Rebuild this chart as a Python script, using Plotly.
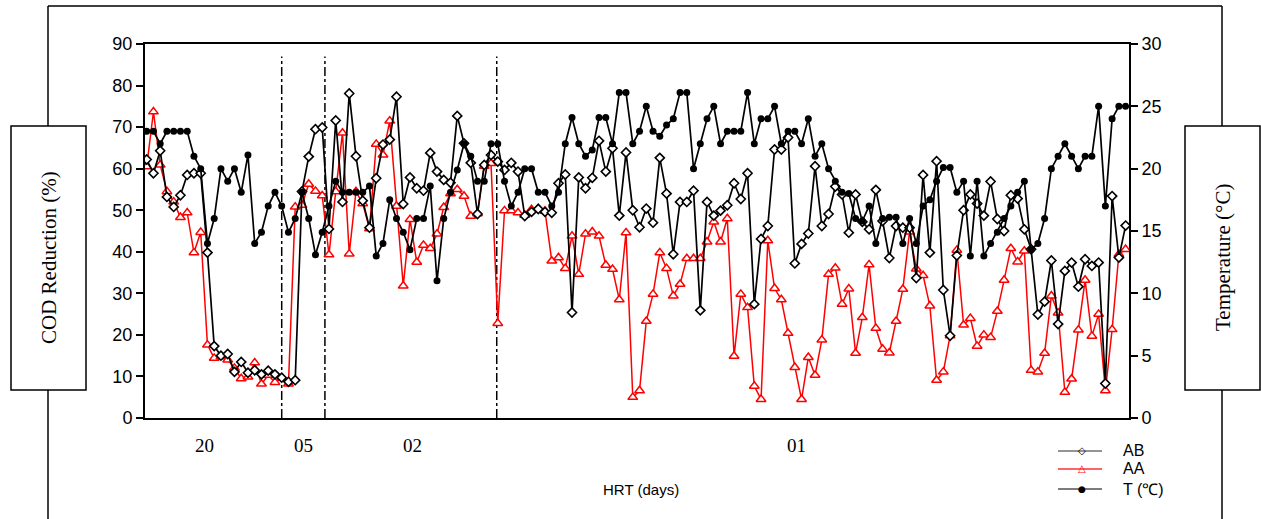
import plotly.graph_objects as go

# ---------------- data ----------------
ab = [62.2, 58.9, 64.3, 53.2, 50.8, 53.6, 58.5, 58.9, 58.9, 39.8,
      17.3, 15.0, 15.4, 11.1, 13.5, 10.9, 11.5, 10.5, 11.4, 10.5,
      9.7, 8.7, 9.1, 54.5, 62.9, 69.5, 69.9, 45.5, 71.6, 52.0,
      78.1, 63.0, 52.3, 45.8, 57.7, 65.8, 67.0, 77.3, 51.5, 57.9,
      55.3, 54.7, 63.8, 59.3, 57.3, 56.6, 72.7, 66.1, 61.4, 49.1,
      60.9, 63.3, 61.7, 59.7, 61.4, 59.3, 48.6, 49.6, 50.3, 49.6,
      49.4, 56.5, 58.6, 25.4, 57.9, 55.3, 57.8, 66.7, 59.3, 64.9,
      48.7, 63.9, 50.0, 45.9, 50.4, 47.0, 62.6, 54.0, 39.4, 52.0,
      52.0, 54.7, 25.9, 52.0, 48.7, 49.9, 51.2, 56.5, 52.7, 58.9,
      27.4, 43.1, 46.2, 64.6, 64.6, 67.5, 37.2, 41.9, 44.4, 60.6,
      46.2, 49.1, 55.7, 53.8, 44.6, 53.8, 47.2, 45.4, 54.9, 47.4,
      38.5, 46.2, 45.8, 45.8, 33.7, 58.5, 39.8, 61.8, 30.8, 19.8,
      39.1, 50.0, 53.8, 51.6, 48.7, 56.9, 47.9, 45.0, 53.6, 52.8,
      45.4, 40.6, 24.9, 28.0, 37.9, 22.6, 35.4, 37.4, 31.6, 38.2,
      36.6, 37.4, 8.3, 53.4, 38.6, 46.3]

aa = [60.5, 73.7, 60.9, 54.5, 52.0, 48.3, 49.4, 39.8, 44.7, 17.6,
      14.4, 14.8, 14.0, 12.0, 9.5, 9.9, 13.3, 8.2, 10.3, 8.6,
      9.6, 8.2, 50.8, 51.2, 56.3, 54.6, 53.5, 39.3, 54.5, 68.6,
      39.5, 54.5, 51.6, 45.6, 65.9, 63.3, 71.5, 51.0, 31.8, 47.8,
      37.5, 41.6, 40.8, 44.3, 50.7, 54.0, 55.0, 53.4, 48.6, 49.2,
      60.6, 61.3, 22.8, 49.9, 49.9, 49.4, 48.8, 50.2, 50.4, 49.8,
      37.8, 38.6, 36.0, 43.8, 34.6, 44.3, 44.8, 43.8, 36.8, 35.8,
      28.5, 44.6, 5.0, 6.6, 23.3, 29.8, 39.8, 36.0, 29.4, 32.2,
      38.4, 38.4, 38.4, 42.4, 47.2, 42.4, 48.0, 14.9, 29.8, 26.6,
      7.7, 4.5, 42.7, 31.2, 28.5, 20.4, 12.2, 4.5, 14.6, 10.3,
      18.8, 34.6, 36.1, 27.4, 31.1, 15.6, 24.2, 36.9, 21.6, 16.6,
      15.7, 23.3, 31.0, 44.8, 35.9, 34.3, 27.0, 9.1, 11.1, 19.8,
      40.4, 22.4, 24.0, 17.3, 20.0, 19.4, 25.7, 33.2, 40.8, 37.6,
      40.2, 11.5, 11.1, 15.6, 29.4, 25.3, 6.2, 9.4, 21.2, 33.2,
      19.7, 25.0, 6.6, 21.3, 39.4, 40.6]

temp = [23.0, 23.0, 22.0, 23.0, 23.0, 23.0, 23.0, 21.0, 20.0, 14.0,
        16.0, 20.0, 19.0, 20.0, 18.1, 21.1, 14.0, 14.9, 17.0, 18.1,
        17.0, 14.9, 16.0, 18.1, 16.0, 13.1, 14.9, 17.0, 19.0, 18.1,
        18.1, 18.1, 18.1, 18.6, 13.0, 14.0, 17.5, 16.0, 14.9, 13.5,
        16.0, 16.0, 18.6, 11.0, 16.0, 18.1, 19.9, 22.0, 21.0, 19.0,
        19.0, 22.0, 22.0, 19.0, 17.0, 18.1, 20.0, 20.0, 18.1, 18.1,
        17.0, 18.1, 22.0, 24.1, 22.0, 21.0, 21.5, 24.1, 24.1, 22.0,
        26.1, 26.1, 22.0, 23.0, 25.0, 23.0, 22.6, 23.5, 24.0, 26.1,
        26.1, 20.0, 22.0, 24.0, 25.0, 22.0, 23.0, 23.0, 23.0, 26.1,
        22.0, 24.0, 24.0, 25.0, 22.0, 23.0, 23.0, 22.0, 24.0, 21.0,
        22.0, 20.0, 19.0, 18.1, 18.0, 16.0, 15.8, 17.0, 14.0, 16.0,
        16.1, 16.1, 14.0, 16.0, 14.0, 17.0, 17.5, 19.0, 20.1, 20.1,
        18.1, 19.0, 13.0, 19.0, 13.0, 14.0, 14.9, 16.0, 17.0, 18.1,
        19.0, 13.5, 14.0, 16.0, 20.0, 21.0, 22.0, 21.0, 20.0, 21.0,
        21.0, 25.0, 17.0, 24.0, 25.0, 25.0]

days = list(range(len(ab)))

phase_boundaries = [20.0, 26.4, 51.85]
hrt_labels = ["20", "05", "02", "01"]
hrt_label_pos = [8.6, 23.3, 39.3, 96.3]

cod_ticks = list(range(0, 91, 10))
temp_ticks = list(range(0, 31, 5))

legend_names = ["AB", "AA", "T (\u2103)"]

# ---------------- figure ----------------
SERIF = "Liberation Serif, Times New Roman, serif"
SANS = "Liberation Sans, Arial, sans-serif"

fig = go.Figure()

fig.add_trace(go.Scatter(
    x=days, y=aa, mode="lines+markers", name="AA", showlegend=False,
    line=dict(color="#ff0000", width=1.5),
    marker=dict(symbol="triangle-up", size=8.5, color="white",
                line=dict(color="#ff0000", width=1.5)),
))
fig.add_trace(go.Scatter(
    x=days, y=ab, mode="lines+markers", name="AB", showlegend=False,
    line=dict(color="black", width=1.7),
    marker=dict(symbol="diamond", size=7, color="white",
                line=dict(color="black", width=1.6)),
))
fig.add_trace(go.Scatter(
    x=days, y=temp, mode="lines+markers", name="T", showlegend=False,
    yaxis="y2",
    line=dict(color="black", width=1.7),
    marker=dict(symbol="circle", size=7, color="black"),
))

W, H = 1261, 519
L, R, T, B = 145, 1129, 44, 418


def xp(px):
    return (px - L) / (R - L)


def yp(py):
    return (B - py) / (B - T)


shapes = []
# outer frame (open at the bottom)
shapes.append(dict(type="line", xref="paper", yref="paper",
                   x0=xp(48), x1=xp(48), y0=yp(6), y1=yp(530),
                   line=dict(color="black", width=1.5)))
shapes.append(dict(type="line", xref="paper", yref="paper",
                   x0=xp(1222), x1=xp(1222), y0=yp(6), y1=yp(530),
                   line=dict(color="black", width=1.5)))
shapes.append(dict(type="line", xref="paper", yref="paper",
                   x0=xp(48), x1=xp(1222), y0=yp(6), y1=yp(6),
                   line=dict(color="black", width=1.5)))
# title boxes
shapes.append(dict(type="rect", xref="paper", yref="paper",
                   x0=xp(11), x1=xp(86), y0=yp(390), y1=yp(126),
                   fillcolor="white", line=dict(color="black", width=1.5)))
shapes.append(dict(type="rect", xref="paper", yref="paper",
                   x0=xp(1185), x1=xp(1260), y0=yp(390), y1=yp(126),
                   fillcolor="white", line=dict(color="black", width=1.5)))
# phase boundaries
for xb in phase_boundaries:
    shapes.append(dict(type="line", xref="x", yref="y", x0=xb, x1=xb,
                       y0=0, y1=87, layer="below",
                       line=dict(color="black", width=1.5, dash="dashdot")))

# legend lines
leg_y = [451, 469, 489]
leg_colors = ["#707070", "#ff3030", "#505050"]
for yy, c in zip(leg_y, leg_colors):
    shapes.append(dict(type="line", xref="paper", yref="paper",
                       x0=xp(1058), x1=xp(1102), y0=yp(yy), y1=yp(yy),
                       line=dict(color=c, width=1.5)))

annotations = []
annotations.append(dict(text="COD Reduction (%)", textangle=-90,
                        xref="paper", yref="paper", x=xp(49), y=yp(258),
                        xanchor="center", yanchor="middle", showarrow=False,
                        font=dict(family=SERIF, size=21, color="black")))
annotations.append(dict(text="Temperature (\u00b0C)", textangle=-90,
                        xref="paper", yref="paper", x=xp(1223), y=yp(258),
                        xanchor="center", yanchor="middle", showarrow=False,
                        font=dict(family=SERIF, size=21, color="black")))
for lab, pos in zip(hrt_labels, hrt_label_pos):
    annotations.append(dict(text=lab, xref="x", yref="paper", x=pos, y=yp(445),
                            xanchor="center", yanchor="middle", showarrow=False,
                            font=dict(family=SERIF, size=19, color="black")))
annotations.append(dict(text="HRT (days)", xref="paper", yref="paper",
                        x=xp(641), y=yp(490), xanchor="center", yanchor="middle",
                        showarrow=False, font=dict(family=SANS, size=15, color="black")))
# legend glyphs and texts
glyphs = ["\u25c7", "\u25b3", "\u25cf"]
glyph_colors = ["black", "#ff0000", "black"]
glyph_sizes = [10, 10, 9]
for yy, g, gc, gs, name in zip(leg_y, glyphs, glyph_colors, glyph_sizes, legend_names):
    annotations.append(dict(text=g, xref="paper", yref="paper", x=xp(1082), y=yp(yy),
                            xanchor="center", yanchor="middle", showarrow=False,
                            font=dict(family="DejaVu Sans", size=gs, color=gc)))
    annotations.append(dict(text=name, xref="paper", yref="paper", x=xp(1121), y=yp(yy),
                            xanchor="left", yanchor="middle", showarrow=False,
                            font=dict(family=SANS, size=16, color="black")))

fig.update_layout(
    width=W, height=H,
    margin=dict(l=L, r=W - R, t=T, b=H - B, pad=0),
    paper_bgcolor="white", plot_bgcolor="white",
    showlegend=False,
    xaxis=dict(range=[-0.25, 145.5], showgrid=False, zeroline=False,
               showline=True, linecolor="black", linewidth=2, mirror=True,
               showticklabels=False, ticks=""),
    yaxis=dict(range=[0, 90], tickvals=cod_ticks, showgrid=False, zeroline=False,
               showline=True, linecolor="black", linewidth=2,
               ticks="outside", ticklen=7, tickwidth=2, tickcolor="black",
               tickfont=dict(family=SANS, size=18, color="black")),
    yaxis2=dict(range=[0, 30], tickvals=temp_ticks, overlaying="y", side="right",
                showgrid=False, zeroline=False,
                showline=True, linecolor="black", linewidth=2,
                ticks="outside", ticklen=7, tickwidth=2, tickcolor="black",
                tickfont=dict(family=SANS, size=18, color="black")),
    shapes=shapes,
    annotations=annotations,
)

# remove the page's default 8px body margin so the figure sits at (0, 0)
fig.write_html("out.html",
               config={"displayModeBar": False},
               post_script="document.body.style.margin='0';"
                           "document.body.style.overflow='hidden';")
